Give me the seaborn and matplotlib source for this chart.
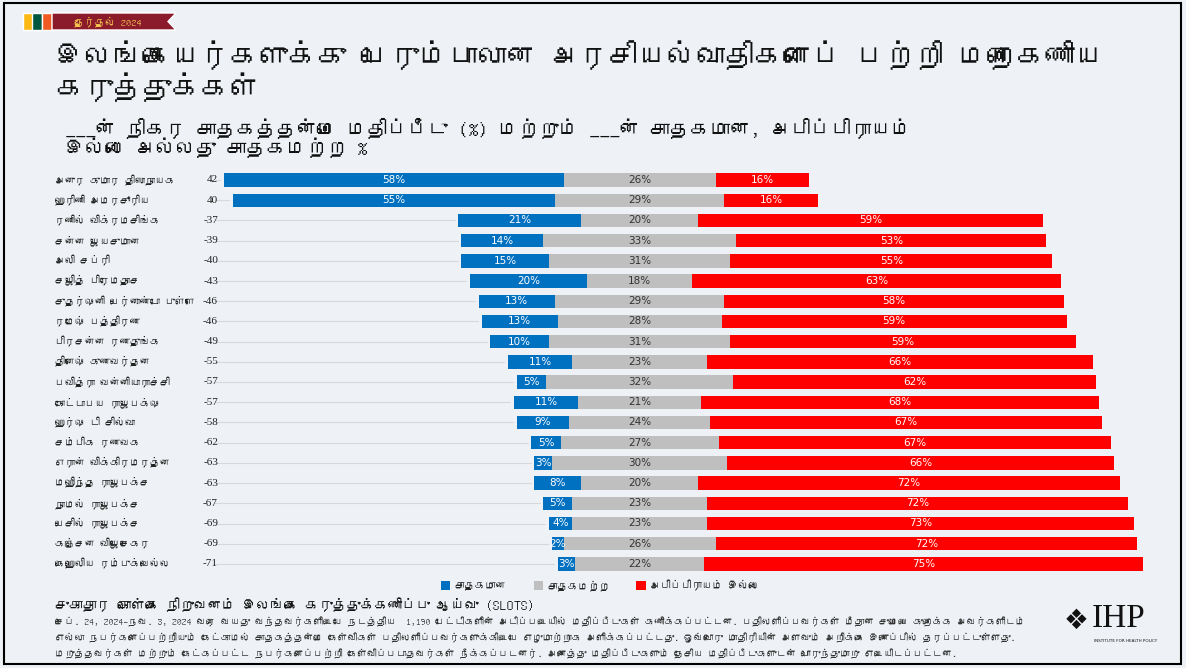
import matplotlib
matplotlib.use("Agg")
import matplotlib.pyplot as plt
from matplotlib.patches import Rectangle, Polygon, Patch
from matplotlib import font_manager as fm
from matplotlib.ft2font import FT2Font
import seaborn as sns
import pandas as pd
import numpy as np

# data
names = ["அனுர குமார திஸாநாயக", "ஹரிணி அமரசூரிய", "ரணில் விக்ரமசிங்க", "சன்ன ஜயசுமான",
         "அலி சப்ரி", "சஜித் பிரேமதாச", "சுதர்ஷனி பெர்னாண்டோ புள்ளே", "ரமேஷ் பத்திரண",
         "பிரசன்ன ரணதுங்க", "தினேஷ் குணவர்தன", "பவித்ரா வன்னியாராச்சி", "கோட்டாபய ராஜபக்ஷ",
         "ஹர்ஷ டி சில்வா", "சம்பிக ரணவக", "எரான் விக்கிரமரத்ன", "மஹிந்த ராஜபக்ச",
         "நாமல் ராஜபக்ச", "பெசில் ராஜபக்ச", "கஞ்சன விஜேசேகர", "கெஹெலிய ரம்புக்வெல்ல"]
net = [42, 40, -37, -39, -40, -43, -46, -46, -49, -55, -57, -57, -58, -62, -63, -63, -67, -69, -69, -71]
favourable = [58, 55, 21, 14, 15, 20, 13, 13, 10, 11, 5, 11, 9, 5, 3, 8, 5, 4, 2, 3]
neutral = [26, 29, 20, 33, 31, 18, 29, 28, 31, 23, 32, 21, 24, 27, 30, 20, 23, 23, 26, 22]
unfavourable = [16, 16, 59, 53, 55, 63, 58, 59, 59, 66, 62, 68, 67, 67, 66, 72, 72, 73, 72, 75]
legend_labels = ["சாதகமான", "சாதகமற்ற", "அபிப்பிராயம் இல்லை"]

colors = ["#0070C0", "#BFBFBF", "#FF0000"]
bg = "#EEF2F7"


def find_tamil_font():
    for f in fm.fontManager.ttflist:
        try:
            if 0x0B95 in FT2Font(f.fname).get_charmap():
                return f.name
        except Exception:
            pass
    return None


sns.set_theme(style="white")
tamil = find_tamil_font()
fams = ([tamil] if tamil else []) + ["DejaVu Sans"]
plt.rcParams['font.family'] = fams

df = pd.DataFrame({"name": names, "net": net, "fav": favourable,
                   "neu": neutral, "unf": unfavourable})
# bars are centred on the middle of the neutral segment
df["start"] = -(df["fav"] + df["neu"] / 2)

W, H = 1186, 668
fig = plt.figure(figsize=(W / 100, H / 100), dpi=100)
fig.patch.set_facecolor(bg)


def fx(x):
    return x / W


def fy(y):
    return 1 - y / H


# axes: rows y 170..574 px, x 224..1143 px
ax = fig.add_axes([fx(224), fy(574), fx(1143) - fx(224), (574 - 170) / H])
ax.set_facecolor(bg)
ax.patch.set_alpha(0)

segs = [("fav", df["start"]), ("neu", df["start"] + df["fav"]),
        ("unf", df["start"] + df["fav"] + df["neu"])]
for (col, left), c in zip(segs, colors):
    sns.barplot(data=df, y="name", x=col, order=names, left=left.to_numpy(),
                color=c, width=0.66, ax=ax, saturation=1, edgecolor="none")

ax.set_xlim(-71, 86)
ax.set_ylim(19.5, -0.5)
ax.set_xlabel("")
ax.set_ylabel("")
ax.set_xticks([])
ax.set_yticks([])
for s in ax.spines.values():
    s.set_visible(False)

for i, r in df.iterrows():
    # leader line from score to bar
    ax.plot([-72.5, r["start"] - 0.6], [i, i], color="#D5D8DC", lw=0.8,
            clip_on=False, zorder=0)
    x0 = r["start"]
    for col, tc in [("fav", "white"), ("neu", "#333333"), ("unf", "white")]:
        v = r[col]
        ax.text(x0 + v / 2, i, f"{v}%", ha="center", va="center",
                fontsize=7.5, color=tc, family=["DejaVu Sans"])
        x0 += v

# names and net scores
for i, (n, v) in enumerate(zip(names, net)):
    yy = 180 + i * 20.2
    fig.text(fx(55), fy(yy), n, ha="left", va="center", fontsize=7.2, color="#222222")
    fig.text(fx(218), fy(yy), f"{v}", ha="right", va="center", fontsize=8,
             color="#222222", family=["Liberation Serif", "DejaVu Serif"])

# legend
handles = [Patch(facecolor=c, edgecolor="none") for c in colors]
fig.legend(handles, legend_labels, loc="center", bbox_to_anchor=(fx(600), fy(585)),
           ncol=3, frameon=False, fontsize=7.5, handlelength=0.9, handleheight=0.9,
           handletextpad=0.4, columnspacing=2.6)

# header ribbon
for x0, c in [(23, "#FDB913"), (32, "#00573F"), (42, "#F15A22")]:
    fig.patches.append(Rectangle((fx(x0), fy(30)), fx(10), (30 - 13) / H,
                                 facecolor=c, transform=fig.transFigure))
fig.patches.append(Polygon([(fx(52), fy(13)), (fx(176), fy(13)), (fx(168), fy(21.5)),
                            (fx(176), fy(30)), (fx(52), fy(30))],
                           closed=True, facecolor="#8B1A2B", transform=fig.transFigure))
fig.text(fx(108), fy(21.5), "தேர்தல் 2024", ha="center", va="center",
         fontsize=7.5, color="#F2C14E")

# titles
fig.text(fx(55), fy(55), "இலங்கையர்களுக்கு பெரும்பாலான அரசியல்வாதிகளைப் பற்றி மறைகணிய",
         ha="left", va="center", fontsize=21, color="#111111")
fig.text(fx(55), fy(87), "கருத்துக்கள்", ha="left", va="center",
         fontsize=21, color="#111111")
fig.text(fx(65), fy(128), "___ன் நிகர சாதகத்தன்மை மதிப்பீடு (%) மற்றும் ___ன் சாதகமான, அபிப்பிராயம்",
         ha="left", va="center", fontsize=14.5, color="#111111")
fig.text(fx(65), fy(148), "இல்லை அல்லது சாதகமற்ற %", ha="left", va="center",
         fontsize=14.5, color="#111111")

# footer
fig.text(fx(55), fy(605), "சுகாதார கொள்கை நிறுவனம் இலங்கை கருத்துக்கணிப்பு ஆய்வு (SLOTS)",
         ha="left", va="center", fontsize=10, fontweight="bold", color="#111111")
foot = ["செப். 24, 2024–நவ. 3, 2024 வரை வயது வந்தவர்களிடையே நடத்திய  1,190 பேட்டிகளின் அடிப்படையில் மதிப்பீடுகள் கணிக்கப்பட்டன. பதிலளிப்பவர்கள் மீதான சுமையை குறைக்க அவர்களிடம்",
        "எல்லா நபர்களைப்பற்றியும் கேட்காமல் சாதகத்தன்மை கேள்விகள் பதிலளிப்பவர்களுக்கிடையே எழுமாற்றாக அளிக்கப்பட்டது. ஒவ்வொரு மாதிரியின் அளவும் அறிக்கை இணைப்பில் தரப்பட்டுள்ளது.",
        "மறுத்தவர்கள் மற்றும் கேட்கப்பட்ட நபர்களைப்பற்றி கேள்விப்படாதவர்கள் நீக்கப்படனர். அனைத்து மதிப்பீடுகளும் தேசிய மதிப்பீடுகளுடன் பொருந்துமாறு எடையிடப்பட்டன."]
for k, line in enumerate(foot):
    fig.text(fx(55), fy(622 + k * 16), line, ha="left", va="center",
             fontsize=7, color="#333333")

# logo
fig.text(fx(1076), fy(621), "❖", ha="center", va="center", fontsize=20,
         color="#111111", family=["DejaVu Sans"])
fig.text(fx(1092), fy(619), "IHP", ha="left", va="center", fontsize=24,
         color="#111111", family=["Liberation Serif", "DejaVu Serif"])
fig.text(fx(1094), fy(641), "INSTITUTE FOR HEALTH POLICY", ha="left", va="center",
         fontsize=3, color="#111111", family=["DejaVu Sans"])

# border
fig.patches.append(Rectangle((fx(4), fy(664)), fx(1177), (664 - 3) / H, fill=False,
                             edgecolor="black", lw=1.5, transform=fig.transFigure))

fig.savefig("out.png", dpi=100, facecolor=bg)
